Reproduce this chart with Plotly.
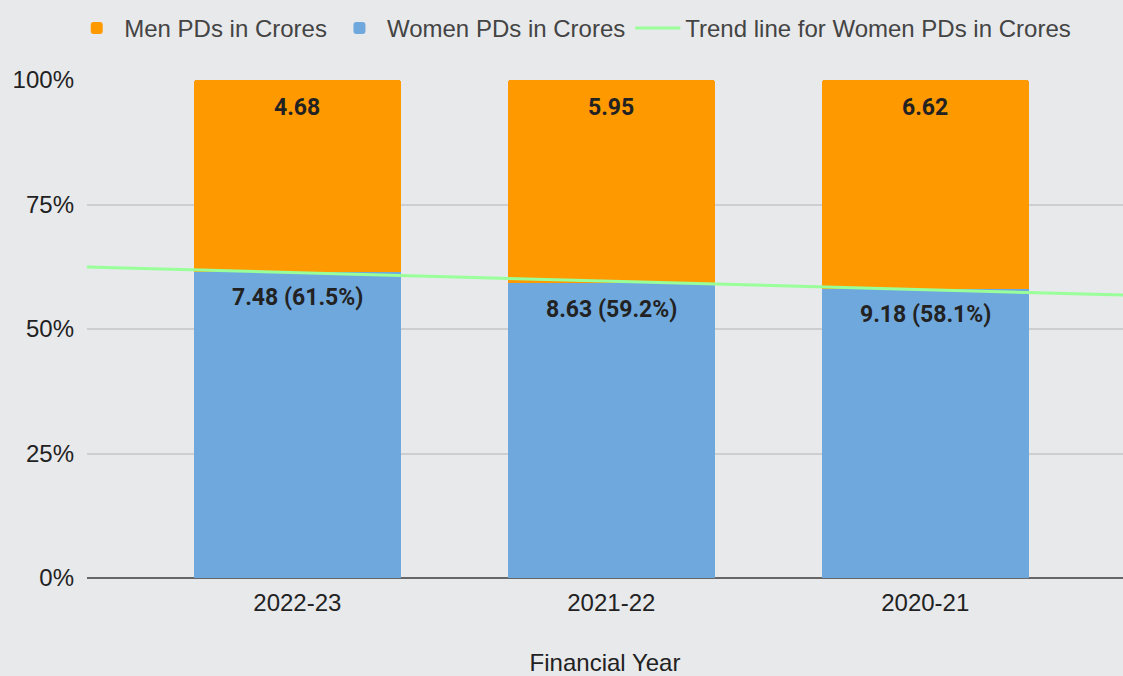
import numpy as np
import plotly.graph_objects as go

years = ["2022-23", "2021-22", "2020-21"]
women_pds = [7.48, 8.63, 9.18]
men_pds = [4.68, 5.95, 6.62]
y_ticks = [0, 25, 50, 75, 100]

x_pos = list(range(len(years)))
x_range = [-0.67, 2.63]

# women share in percent, used for labels and trend line
totals = [w + m for w, m in zip(women_pds, men_pds)]
women_pct = [100 * w / t for w, t in zip(women_pds, totals)]
slope, intercept = np.polyfit(x_pos, women_pct, 1)
trend_x = x_range
trend_y = [slope * v + intercept for v in trend_x]

label_font = dict(family="Roboto", size=23, color="#222222")

fig = go.Figure()
fig.add_trace(go.Bar(
    x=x_pos, y=men_pds, name="Men PDs in Crores",
    marker=dict(color="#ff9900", line=dict(width=0)), width=0.66,
))
fig.add_trace(go.Bar(
    x=x_pos, y=women_pds, name="Women PDs in Crores",
    marker=dict(color="#6fa8dc", line=dict(width=0)), width=0.66,
))
fig.add_trace(go.Scatter(
    x=trend_x, y=trend_y, mode="lines",
    name="Trend line for Women PDs in Crores",
    line=dict(color="#99ff99", width=3),
))
# women at the bottom of each stack, men on top
fig.data = (fig.data[1], fig.data[0], fig.data[2])
fig.data[0].legendrank = 2
fig.data[1].legendrank = 1
fig.data[2].legendrank = 3

# value labels near the top of each segment
for i in x_pos:
    fig.add_annotation(x=i, y=100, yshift=-27, text=f"<b>{men_pds[i]:.2f}</b>",
                       showarrow=False, font=label_font, yanchor="middle")
    fig.add_annotation(x=i, y=women_pct[i], yshift=-26,
                       text=f"<b>{women_pds[i]:.2f} ({women_pct[i]:.1f}%)</b>",
                       showarrow=False, font=label_font, yanchor="middle")

fig.update_layout(
    width=1123, height=676,
    barmode="stack", barnorm="percent", barcornerradius=3,
    paper_bgcolor="#e8e9eb", plot_bgcolor="#e8e9eb",
    margin=dict(l=87, r=0, t=80, b=98),
    font=dict(family="Liberation Sans, Arial", size=24, color="#444444"),
    legend=dict(orientation="h", xref="container", x=0.51, xanchor="center",
                yref="container", y=0.958, yanchor="middle", traceorder="normal",
                font=dict(size=24, color="#444444"), itemwidth=45),
    showlegend=True,
)

fig.update_xaxes(
    range=x_range, tickvals=x_pos, ticktext=years,
    showgrid=False, zeroline=False, showline=False,
    tickfont=dict(size=24, color="#222222"), ticks="", ticklabelstandoff=8,
    title=dict(text="Financial Year", font=dict(size=24, color="#222222"), standoff=42),
)
fig.update_yaxes(
    range=[0, 100], tickvals=y_ticks, ticktext=[f"{t}%" for t in y_ticks],
    showgrid=True, gridcolor="#cdcecf", gridwidth=2,
    zeroline=True, zerolinecolor="#666666", zerolinewidth=2,
    tickfont=dict(size=24, color="#222222"), ticklabelstandoff=12,
)

fig.write_html("out.html", config={"displayModeBar": False},
               post_script="document.body.style.margin='0';")
